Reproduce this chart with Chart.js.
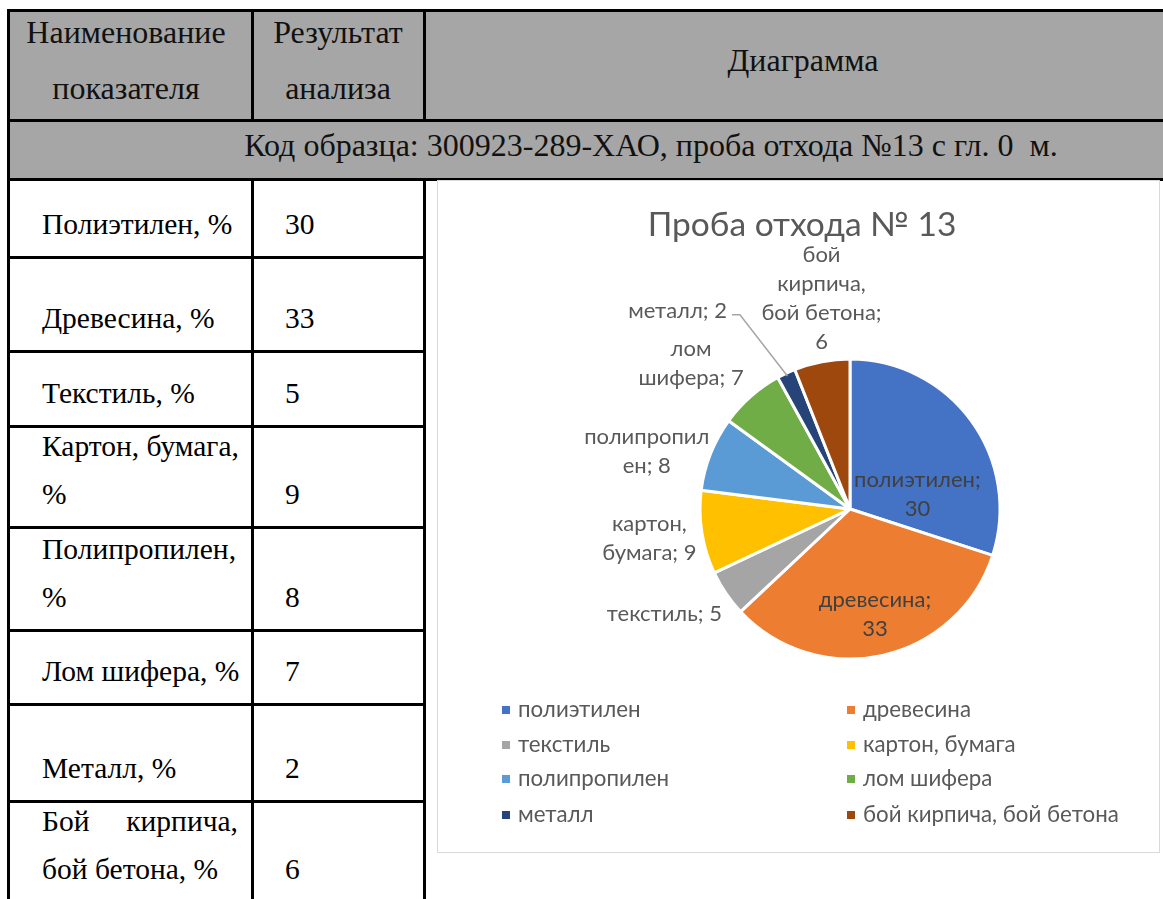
<!DOCTYPE html>
<html><head><meta charset="utf-8">
<script src="https://cdn.jsdelivr.net/npm/chart.js@4.4.0/dist/chart.umd.min.js"></script>
<style>
html,body{margin:0;padding:0;background:#fff;}
body{width:1163px;height:899px;overflow:hidden;position:relative;font-family:"Liberation Serif","Times New Roman",serif;color:#000;}
.abs{position:absolute;}
.hl{position:absolute;background:#000;height:3px;}
.vl{position:absolute;background:#000;width:3px;}
.txt{position:absolute;font-size:29.5px;white-space:nowrap;line-height:48px;}
#chartbox{position:absolute;left:437px;top:180px;width:721px;height:671px;border:1px solid #d9d9d9;background:#fff;}
</style></head>
<body>
<div id="page"></div>
<div id="chartbox"><canvas id="c" width="721" height="671"></canvas></div>
<script>
// ---- data ----
const categories = ['полиэтилен','древесина','текстиль','картон, бумага','полипропилен','лом шифера','металл','бой кирпича, бой бетона'];
const values = [30,33,5,9,8,7,2,6];
const colors = ['#4472C4','#ED7D31','#A5A5A5','#FFC000','#5B9BD5','#70AD47','#264478','#9E480E'];
const tableNames = [['Полиэтилен, %'],['Древесина, %'],['Текстиль, %'],['Картон, бумага,','%'],['Полипропилен,','%'],['Лом шифера, %'],['Металл, %'],['Бой|кирпича,','бой бетона, %']];
const headerCol1 = ['Наименование','показателя'];
const headerCol2 = ['Результат','анализа'];
const headerCol3 = 'Диаграмма';
const sampleCode = 'Код образца: 300923-289-ХАО, проба отхода №13 с гл. 0&nbsp; м.';
const chartTitle = 'Проба отхода № 13';
const labelWrap = [['полиэтилен;','{v}'],['древесина;','{v}'],['текстиль; {v}'],['картон,','бумага; {v}'],['полипропил','ен; {v}'],['лом','шифера; {v}'],['металл; {v}'],['бой','кирпича,','бой бетона;','{v}']];

// ---- table layout ----
const page = document.getElementById('page');
function el(cls, style, html){const d=document.createElement('div');d.className=cls;Object.assign(d.style,style);if(html!==undefined)d.innerHTML=html;page.appendChild(d);return d;}
const rowBottoms=[257,351,426,527,630,704,801,960];
el('abs',{left:'8px',top:'10px',width:'1155px',height:'169px',background:'#a6a6a6'});
const hdr={fontSize:'32px',lineHeight:'56px',textAlign:'center',color:'#111'};
el('txt',Object.assign({},hdr,{left:'8px',top:'4px',width:'236px'}),headerCol1.join('<br>'));
el('txt',Object.assign({},hdr,{left:'252px',top:'4px',width:'172px'}),headerCol2.join('<br>'));
el('txt',Object.assign({},hdr,{left:'424px',top:'32px',width:'758px'}),headerCol3);
el('txt',Object.assign({},hdr,{left:'8px',top:'117px',width:'1286px'}),sampleCode);
el('hl',{left:'7px',top:'9px',width:'1160px'});
el('hl',{left:'7px',top:'119px',width:'1160px'});
el('hl',{left:'7px',top:'178px',width:'1160px'});
el('vl',{left:'7px',top:'9px',height:'900px'});
el('vl',{left:'251px',top:'9px',height:'112px'});
el('vl',{left:'423px',top:'9px',height:'112px'});
el('vl',{left:'251px',top:'178px',height:'730px'});
el('vl',{left:'423px',top:'178px',height:'730px'});
rowBottoms.forEach((b,i)=>{
  if(b<900) el('hl',{left:'7px',top:(b-1)+'px',width:'419px'});
  const lines=tableNames[i];
  const lastCenter=(i===7?869:b-33);
  lines.forEach((ln,k)=>{
    const cy=lastCenter-(lines.length-1-k)*48;
    if(ln.indexOf('|')>=0){
      const parts=ln.split('|');
      el('txt',{left:'42px',top:(cy-24)+'px',width:'196px',display:'flex',justifyContent:'space-between'},'<span>'+parts[0]+'</span><span>'+parts[1]+'</span>');
    } else el('txt',{left:'42px',top:(cy-24)+'px'},ln);
  });
  el('txt',{left:'285px',top:(lastCenter-24)+'px'},String(values[i]));
});

// ---- chart ----
const FONT='Lato, Roboto, sans-serif';
const LABEL_SIZE=22, LH=29, GAP=6;
const placement=[{inside:true,r:0.46,da:23.6},{inside:true,r:0.72,da:-0.8},{dx:-9,dy:9},{},{dy:11},{dx:-21,dy:-7},{dx:-85,dy:-44,leader:true},{dx:12}];
const labelPlugin={
  id:'excelLabels',
  afterDatasetsDraw(chart){
    const ctx=chart.ctx, meta=chart.getDatasetMeta(0);
    ctx.save();
    ctx.font=LABEL_SIZE+'px '+FONT;
    ctx.textAlign='center';ctx.textBaseline='middle';
    meta.data.forEach((arc,i)=>{
      const {x,y,startAngle,endAngle,outerRadius}=arc.getProps(['x','y','startAngle','endAngle','outerRadius'],true);
      const mid=(startAngle+endAngle)/2, c=Math.cos(mid), s=Math.sin(mid);
      const lines=labelWrap[i].map(t=>t.replace('{v}',chart.data.datasets[0].data[i]));
      const p=placement[i];
      const w=Math.max(...lines.map(l=>ctx.measureText(l).width)), h=lines.length*LH;
      let cx,cy;
      if(p.inside){const a=mid+p.da*Math.PI/180;cx=x+Math.cos(a)*outerRadius*p.r;cy=y+Math.sin(a)*outerRadius*p.r;ctx.fillStyle='#404040';}
      else{const R=outerRadius+GAP;cx=x+c*R+c*w/2+(p.dx||0);cy=y+s*R+s*h/2+(p.dy||0);ctx.fillStyle='#595959';}
      lines.forEach((l,k)=>ctx.fillText(l,cx,cy-h/2+LH/2+k*LH));
      if(p.leader){
        ctx.strokeStyle='#a6a6a6';ctx.lineWidth=1.5;ctx.beginPath();
        ctx.moveTo(cx+w/2+5,cy+4);ctx.lineTo(cx+w/2+13,cy+4);
        ctx.lineTo(x+c*outerRadius*0.98,y+s*outerRadius*0.98);ctx.stroke();
      }
    });
    ctx.restore();
  },
  afterDraw(chart){
    const ctx=chart.ctx;ctx.save();
    ctx.fillStyle='#595959';ctx.textAlign='center';ctx.textBaseline='middle';
    ctx.font='33.5px '+FONT;
    ctx.fillText(chartTitle,364,44);
    ctx.font='22.3px '+FONT;ctx.textAlign='left';
    const colXs=[64,409], rowYs=[529,564,598,634];
    chart.data.labels.forEach((lab,i)=>{
      const cxl=colXs[i%2], cyl=rowYs[Math.floor(i/2)];
      ctx.fillStyle=chart.data.datasets[0].backgroundColor[i];
      ctx.fillRect(cxl,cyl-4,8,8);
      ctx.fillStyle='#595959';
      ctx.fillText(lab,cxl+16,cyl);
    });
    ctx.restore();
  }
};
new Chart(document.getElementById('c'),{
  type:'pie',
  data:{labels:categories,datasets:[{data:values,backgroundColor:colors,borderColor:'#ffffff',borderWidth:3}]},
  options:{
    responsive:false,animation:false,radius:150,
    layout:{padding:{left:212,right:109,top:128,bottom:143}},
    plugins:{legend:{display:false},title:{display:false},tooltip:{enabled:false}}
  },
  plugins:[labelPlugin]
});
</script>
</body></html>
